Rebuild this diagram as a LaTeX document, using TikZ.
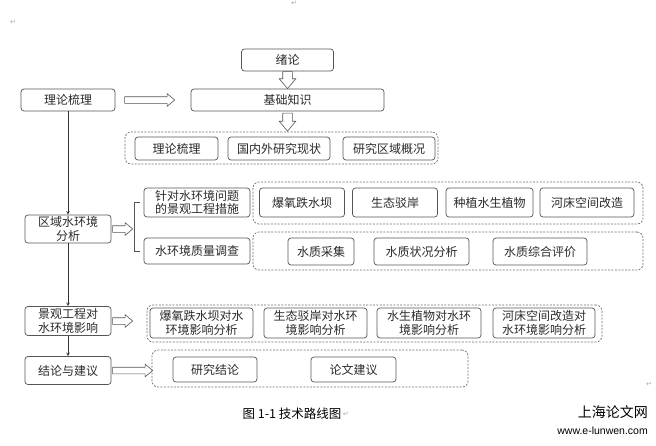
\documentclass[tikz,border=0pt]{standalone}
\usepackage{fontspec}
\newfontfamily\cjk{Noto Sans CJK SC}
\newfontfamily\markfont{DejaVu Sans}
\newfontfamily\urlfont{Liberation Sans}
\usetikzlibrary{arrows,shapes.arrows,positioning}
\definecolor{boxline}{HTML}{555555}
\definecolor{boxtext}{HTML}{2A2A2A}
\tikzstyle{box} = [draw=boxline,rounded corners=3pt,align=center,inner sep=1pt,text=boxtext,line width=0.7pt,font=\cjk\fontsize{12}{13.2}\selectfont]
\tikzstyle{group} = [draw=boxline!85,rounded corners=6pt,dash pattern=on 2pt off 1.4pt,line width=0.7pt]
\tikzstyle{arrow} = [boxline!60!black,line width=0.6pt,->,>=stealth]
\tikzstyle{rarrow} = [single arrow,draw=boxline,fill=white,inner xsep=0pt,inner ysep=3pt,line width=0.6pt,single arrow head extend=3pt,single arrow tip angle=80,anchor=west]
\tikzstyle{darrow} = [rarrow,inner ysep=4.5pt,single arrow head extend=3.5pt,rotate=-90]
\tikzstyle{retmark} = [gray!70,font=\markfont\fontsize{7}{7}\selectfont,inner sep=0pt]

\begin{document}
\begin{tikzpicture}[x=1pt,y=-1pt]
	\useasboundingbox (0,0) rectangle (656,445);
	
	% left column
	\def \lx {68}
	
	% Top part
	\node[box,minimum width=92,minimum height=22] (xulun) at (287.5,60) {绪论};
	\node[box,minimum width=193,minimum height=22] (jichu) at (287.5,100) {基础知识};
	\node[box,minimum width=94,minimum height=22] (lilun) at (\lx,100) {理论梳理};
	\node[darrow,minimum height=17] (a1) at (xulun.south) {};
	\node[rarrow,minimum height=50] (a2) at ([xshift=9pt]lilun.east) {};
	
	\node[group,minimum width=313,minimum height=32] (grp1) at (281.5,148) {};
	\node[darrow,minimum height=18] (a3) at ([yshift=-1.5pt]jichu.south) {};
	\node[box,minimum width=83,minimum height=23] (g1a) at (176.5,148.5) {理论梳理};
	\node[box,minimum width=102,minimum height=23] (g1b) at (279,148.5) {国内外研究现状};
	\node[box,minimum width=92,minimum height=23] (g1c) at (389,148.5) {研究区域概况};
	
	% Water environment analysis
	\node[box,minimum width=86,minimum height=28] (quyu) at (\lx,229) {区域水环境\\分析};
	\node[rarrow,minimum height=20] (a4) at ([xshift=1pt]quyu.east) {};
	\node[box,minimum width=106,minimum height=29] (zhendui) at (197,202.5) {针对水环境问题\\的景观工程措施};
	\node[box,minimum width=106,minimum height=26] (shuihj) at (197,251) {水环境质量调查};
	\draw[boxline,line width=0.7pt] ([xshift=-4pt]zhendui.west) -- ++(-5,0) |- ([xshift=-4pt]shuihj.west);
	
	\node[group,minimum width=390,minimum height=42] (grp2) at (448,203) {};
	\node[box,minimum width=85,minimum height=29] (g2a) at (302,202.5) {爆氧跌水坝};
	\node[box,minimum width=85,minimum height=29] (g2b) at (395,202.5) {生态驳岸};
	\node[box,minimum width=87,minimum height=29] (g2c) at (489.5,202.5) {种植水生植物};
	\node[box,minimum width=94,minimum height=29] (g2d) at (587,202.5) {河床空间改造};
	
	\node[group,minimum width=390,minimum height=38] (grp3) at (448,251) {};
	\node[box,minimum width=66,minimum height=27] (g3a) at (321,251.5) {水质采集};
	\node[box,minimum width=95,minimum height=27] (g3b) at (421.5,251.5) {水质状况分析};
	\node[box,minimum width=94,minimum height=27] (g3c) at (540,251.5) {水质综合评价};
	
	% Impact analysis
	\node[box,minimum width=86,minimum height=29] (jingguan) at (\lx,321) {景观工程对\\水环境影响};
	\node[rarrow,minimum height=20] (a5) at ([xshift=1pt]jingguan.east) {};
	\node[group,minimum width=455,minimum height=37] (grp4) at (374.5,323.5) {};
	\node[box,minimum width=103,minimum height=30] (g4a) at (201.5,323) {爆氧跌水坝对水\\环境影响分析};
	\node[box,minimum width=103,minimum height=30] (g4b) at (315.5,323) {生态驳岸对水环\\境影响分析};
	\node[box,minimum width=104,minimum height=30] (g4c) at (429,323) {水生植物对水环\\境影响分析};
	\node[box,minimum width=102,minimum height=30] (g4d) at (544,323) {河床空间改造对\\水环境影响分析};
	
	% Conclusion
	\node[box,minimum width=86,minimum height=28] (jielun) at (\lx,370.5) {结论与建议};
	\node[rarrow,minimum height=40] (a6) at ([xshift=1pt]jielun.east) {};
	\node[group,minimum width=316,minimum height=37] (grp5) at (310,368.5) {};
	\node[box,minimum width=84,minimum height=25] (g5a) at (215,369.5) {研究结论};
	\node[box,minimum width=85,minimum height=25] (g5b) at (353.5,369.5) {论文建议};
	
	% Main line
	\draw[arrow] (lilun.south) -- (quyu.north);
	\draw[arrow] (quyu.south) -- (jingguan.north);
	\draw[arrow] (jingguan.south) -- (jielun.north);
	
	% Caption and marks
	\node[font=\cjk\fontsize{12.5}{13}\selectfont,inner sep=0pt] (cap) at (292,414) {图 1-1 技术路线图};
	\node[retmark,right=1pt of cap] (m1) {↵};
	\node[font=\cjk\fontsize{14}{14}\selectfont,inner sep=0pt,anchor=east] (site) at (648,412) {上海论文网};
	\node[font=\urlfont\fontsize{10.5}{11}\selectfont,inner sep=0pt,anchor=east] (url) at (648,431) {www.e-lunwen.com};
	\node[retmark] (m2) at (294,3) {↵};
	\node[retmark] (m3) at (13,22) {↵};
	\node[retmark] (m4) at (649,384) {↵};
\end{tikzpicture}
\end{document}
